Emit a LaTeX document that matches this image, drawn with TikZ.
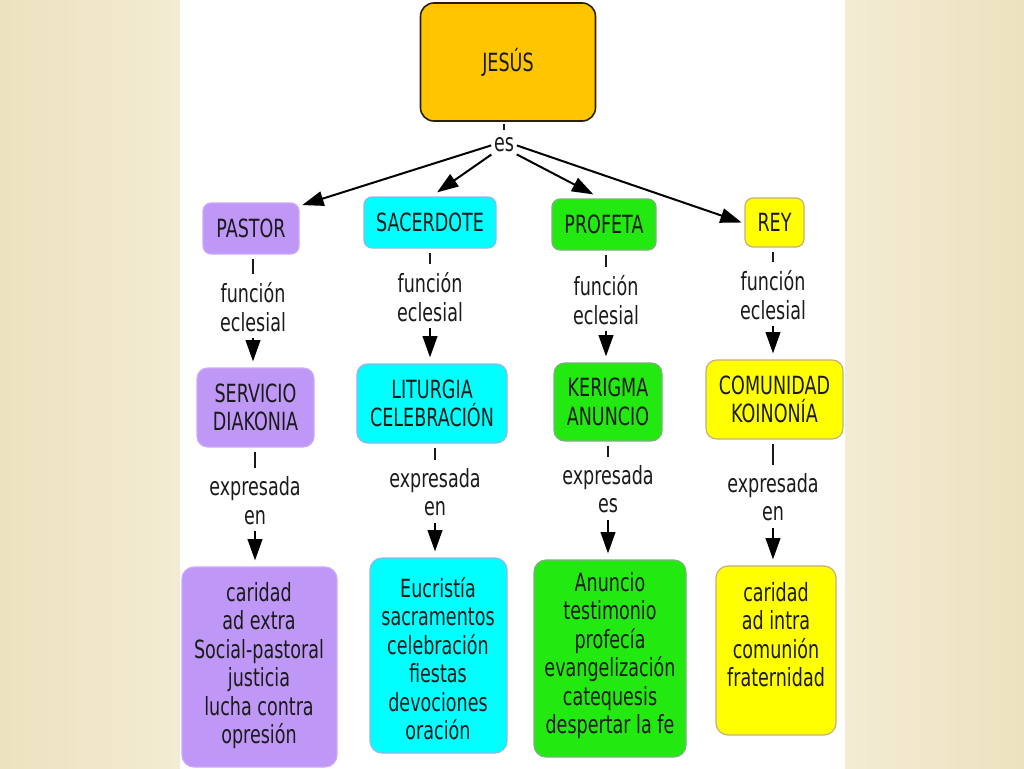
\documentclass[tikz,border=0pt]{standalone}
\usepackage{fontspec}
\setmainfont{DejaVu Sans}[FakeStretch=0.7]
\usetikzlibrary{arrows.meta}
\definecolor{bgbeige}{HTML}{EDE2BF}
\definecolor{bgbeige2}{HTML}{F3EBD3}
\definecolor{txt}{HTML}{1A1A1A}
\definecolor{jesusfill}{HTML}{FFC600}
\definecolor{jesusline}{HTML}{2A2000}
\definecolor{purp}{HTML}{BF98F7}
\definecolor{purpline}{HTML}{CBAAF9}
\definecolor{cyanf}{HTML}{00FFFF}
\definecolor{cyanline}{HTML}{92B4F0}
\definecolor{greenf}{HTML}{22EA10}
\definecolor{greenline}{HTML}{7DB07D}
\definecolor{yellf}{HTML}{FFFF00}
\definecolor{yellline}{HTML}{C8AE7C}
\tikzset{
  every node/.style={font=\fontsize{18.8}{21.4}\selectfont, text=txt},
  box/.style={rounded corners=6pt, line width=0.9pt, align=center, inner sep=0pt},
  bigbox/.style={rounded corners=9pt, line width=0.9pt, inner sep=0pt},
  pbox/.style={fill=purp, draw=purpline},
  cbox/.style={fill=cyanf, draw=cyanline},
  gbox/.style={fill=greenf, draw=greenline},
  ybox/.style={fill=yellf, draw=yellline},
  lbl/.style={align=center, inner sep=0pt},
  tick/.style={line width=1.1pt, draw=txt},
  arr/.style={line width=1.5pt, draw=black, -{Triangle[length=16pt,width=11pt]}},
}
\begin{document}
\begin{tikzpicture}[x=0.75pt,y=-0.75pt]
\useasboundingbox (0,0) rectangle (1024,768);
% background
\shade[left color=bgbeige, right color=bgbeige2] (0,0) rectangle (180,768);
\shade[left color=bgbeige2, right color=bgbeige] (845,0) rectangle (1024,768);
\fill[white] (180,2) rectangle (845,768);

% top
\node[box, rounded corners=10pt, fill=jesusfill, draw=jesusline, line width=1.2pt,
      minimum width=131.25pt, minimum height=88.5pt] (jesus) at (508,62) {JESÚS};
\node[lbl, inner sep=1pt] (es) at (504,145) {es};

% row 1
\node[box, pbox, minimum width=72pt, minimum height=38.25pt] (pastor) at (251,228.5) {PASTOR};
\node[box, cbox, minimum width=99pt, minimum height=38.25pt] (sacerdote) at (430,222.5) {SACERDOTE};
\node[box, gbox, minimum width=78pt, minimum height=38.25pt] (profeta) at (604,224.5) {PROFETA};
\node[box, ybox, minimum width=44.25pt, minimum height=36.75pt] (rey) at (774.5,222.5) {REY};

% row 2 labels
\node[lbl] (f1) at (253,307) {función\\eclesial};
\node[lbl] (f2) at (430,297) {función\\eclesial};
\node[lbl] (f3) at (606,300) {función\\eclesial};
\node[lbl] (f4) at (773,295) {función\\eclesial};

% row 3
\node[box, rounded corners=8pt, pbox, minimum width=87.75pt, minimum height=59.25pt] (servicio) at (255.5,407.5) {SERVICIO\\DIAKONIA};
\node[box, rounded corners=8pt, cbox, minimum width=112.5pt, minimum height=59.25pt] (liturgia) at (432,403.5) {LITURGIA\\CELEBRACIÓN};
\node[box, rounded corners=8pt, gbox, minimum width=81pt, minimum height=58.5pt] (kerigma) at (608,402) {KERIGMA\\ANUNCIO};
\node[box, rounded corners=8pt, ybox, minimum width=102.75pt, minimum height=59.25pt] (comunidad) at (774.5,399.5) {COMUNIDAD\\KOINONÍA};

% row 3 labels
\node[lbl] (e1) at (255,500.5) {expresada\\en};
\node[lbl] (e2) at (435,492) {expresada\\en};
\node[lbl] (e3) at (608,489) {expresada\\es};
\node[lbl] (e4) at (773,497) {expresada\\en};

% row 4 boxes
\node[bigbox, pbox, minimum width=116.25pt, minimum height=150pt] (b1) at (259.5,667) {};
\node[bigbox, cbox, minimum width=102.75pt, minimum height=146.25pt] (b2) at (438.5,655.5) {};
\node[bigbox, gbox, minimum width=114pt, minimum height=147.75pt] (b3) at (610,658.5) {};
\node[bigbox, ybox, minimum width=90pt, minimum height=126.75pt] (b4) at (776,650.5) {};
\node[lbl] (t1) at (259,665.5) {caridad\\ad extra\\Social-pastoral\\justicia\\lucha contra\\opresión};
\node[lbl] (t2) at (438,658.5) {Eucristía\\sacramentos\\celebración\\fiestas\\devociones\\oración};
\node[lbl] (t3) at (610,655.5) {Anuncio\\testimonio\\profecía\\evangelización\\catequesis\\despertar la fe};
\node[lbl] (t4) at (776,634.5) {caridad\\ad intra\\comunión\\fraternidad};

% connectors: jesus -> es
\draw[tick, shorten <=1.5pt, shorten >=5pt] (jesus.south -| es.north) -- (es.north);
\draw[arr, shorten <=1pt] (es.west) -- ([shift={(2pt,-2pt)}]pastor.north east);
\draw[arr, shorten <=1pt] (es.south west) -- ([shift={(5.25pt,3pt)}]sacerdote.north);
\draw[arr, shorten <=1pt] (es.south east) -- ([shift={(-8pt,3pt)}]profeta.north);
\draw[arr, shorten <=1pt] (es.east) -- ([shift={(-2pt,0pt)}]rey.west);

% row1 -> labels -> row3
\foreach \a/\l/\b in {pastor/f1/servicio, sacerdote/f2/liturgia, profeta/f3/kerigma, rey/f4/comunidad}{
  \draw[tick, shorten <=3pt, shorten >=6pt] (\l.north |- \a.south) -- (\l.north);
  \draw[arr, shorten <=5pt, shorten >=4.5pt] (\l.south) -- (\l.south |- \b.north);
}
% row3 -> labels -> row4
\foreach \a/\l/\b in {servicio/e1/b1, liturgia/e2/b2, kerigma/e3/b3, comunidad/e4/b4}{
  \draw[tick, shorten <=3pt, shorten >=6pt] (\l.north |- \a.south) -- (\l.north);
  \draw[arr, shorten <=5pt, shorten >=4.5pt] (\l.south) -- (\l.south |- \b.north);
}
\end{tikzpicture}
\end{document}
